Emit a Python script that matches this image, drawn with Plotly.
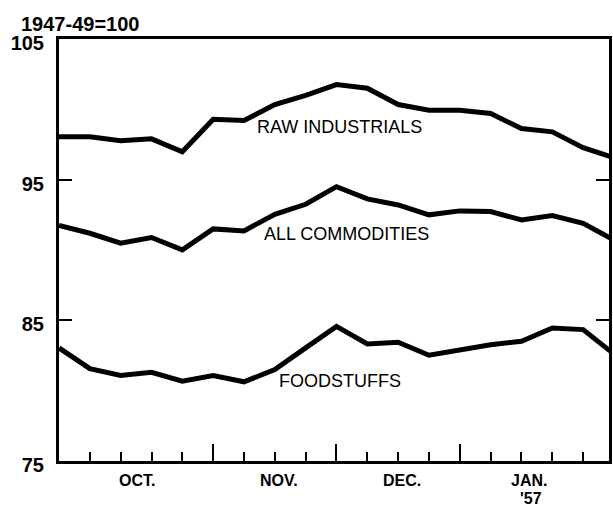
import plotly.graph_objects as go

# weekly observations, Oct 1956 - Jan 1957 (index 1947-49 = 100)
weeks = list(range(19))
raw_industrials = [98.05, 98.05, 97.77, 97.9, 96.98, 99.3, 99.2, 100.34, 101.0, 101.76,
                   101.5, 100.34, 99.94, 99.94, 99.7, 98.64, 98.4, 97.27, 96.55]
all_commodities = [91.74, 91.19, 90.48, 90.89, 90.01, 91.5, 91.36, 92.54, 93.25, 94.5,
                   93.63, 93.2, 92.5, 92.78, 92.73, 92.14, 92.45, 91.9, 90.7]
foodstuffs = [83.04, 81.57, 81.08, 81.31, 80.67, 81.08, 80.63, 81.5, 83.04, 84.57,
              83.32, 83.44, 82.52, 82.92, 83.27, 83.51, 84.46, 84.34, 82.6]

series_names = ["RAW INDUSTRIALS", "ALL COMMODITIES", "FOODSTUFFS"]
series_label_x = [9.1, 9.32, 9.13]
series_label_y = [98.76, 91.17, 80.67]

month_labels = ["OCT.", "NOV.", "DEC.", "JAN."]
month_label_x = [2.52, 7.13, 11.13, 15.26]
month_ticks = [5, 9, 13]
year_label = "'57"

y_ticks = [75, 85, 95, 105]
unit_label = "1947-49=100"

FONT = "Liberation Sans, Arial, sans-serif"
PLOT_H = 422.0

fig = go.Figure()
for name, vals in zip(series_names, [raw_industrials, all_commodities, foodstuffs]):
    fig.add_trace(go.Scatter(x=weeks, y=vals, mode="lines", name=name,
                             line=dict(color="black", width=5), showlegend=False,
                             hoverinfo="skip", cliponaxis=True))

annotations = []
for name, x, y in zip(series_names, series_label_x, series_label_y):
    annotations.append(dict(x=x, y=y, xref="x", yref="y", text=name, showarrow=False,
                            font=dict(family=FONT, size=18, color="black"),
                            xanchor="center", yanchor="middle"))
for lab, x in zip(month_labels, month_label_x):
    annotations.append(dict(x=x, y=-19 / PLOT_H, xref="x", yref="paper", text=lab,
                            showarrow=False,
                            font=dict(family=FONT, size=16, color="black", weight="bold"),
                            xanchor="center", yanchor="middle"))
annotations.append(dict(x=15.3, y=-38 / PLOT_H, xref="x", yref="paper", text=year_label,
                        showarrow=False,
                        font=dict(family=FONT, size=16, color="black", weight="bold"),
                        xanchor="center", yanchor="middle"))
annotations.append(dict(x=0.038, y=1 + 15 / PLOT_H, xref="paper", yref="paper",
                        text=unit_label, showarrow=False,
                        font=dict(family=FONT, size=20, color="black", weight="bold"),
                        xanchor="center", yanchor="middle"))

fig.update_layout(
    width=613, height=508,
    margin=dict(l=59, r=1, t=39, b=47),
    paper_bgcolor="white", plot_bgcolor="white",
    annotations=annotations,
    xaxis=dict(range=[0, 553 / 31], showgrid=False, zeroline=False,
               showline=True, linecolor="black", linewidth=3, mirror=True,
               tickmode="array", tickvals=month_ticks, ticks="inside", ticklen=17,
               tickwidth=2, tickcolor="black", showticklabels=False,
               minor=dict(ticks="inside", ticklen=9, tickwidth=2, tickcolor="black",
                          tickmode="linear", tick0=0, dtick=1, showgrid=False)),
    yaxis=dict(range=[75, 105], showgrid=False, zeroline=False,
               showline=True, linecolor="black", linewidth=3, mirror="ticks",
               tickmode="array", tickvals=y_ticks, ticks="inside", ticklen=13,
               tickwidth=2, tickcolor="black", ticklabelstandoff=8, ticklabelshift=4,
               tickfont=dict(family=FONT, size=20, color="black", weight="bold")),
)

fig.write_html("out.html", config={"displayModeBar": False},
               post_script="document.body.style.margin='0';document.body.style.overflow='hidden';")
